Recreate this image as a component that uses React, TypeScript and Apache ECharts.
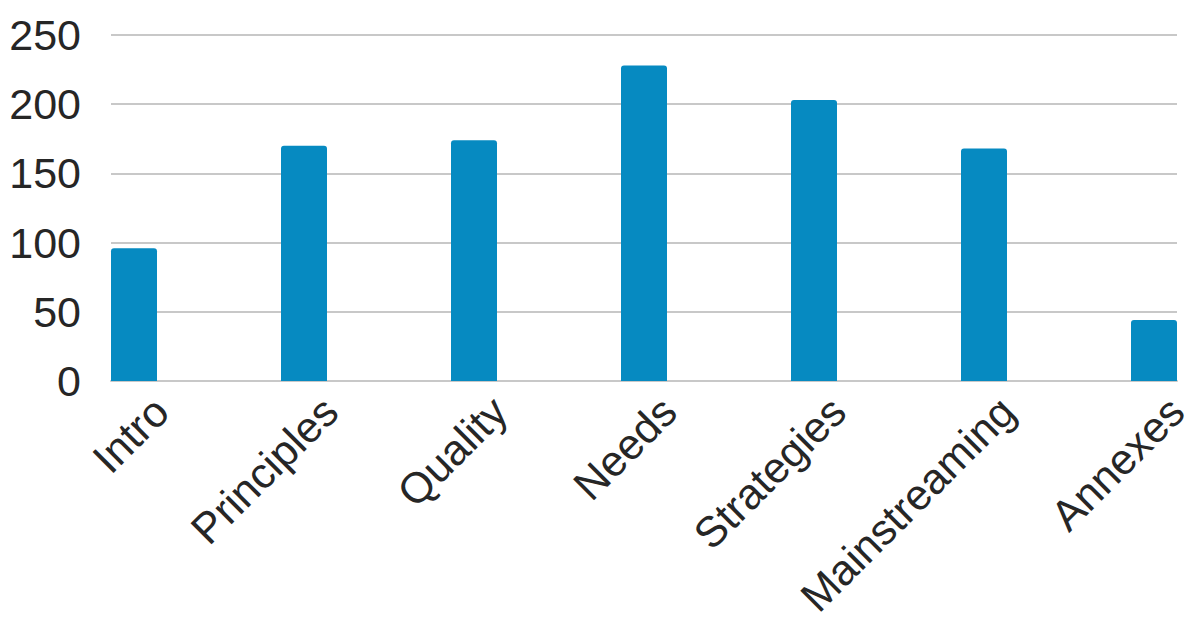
import React, { useEffect, useRef } from "react";
import * as echarts from "echarts";

const categories = ["Intro", "Principles", "Quality", "Needs", "Strategies", "Mainstreaming", "Annexes"];
const values = [96, 170, 174, 228, 203, 168, 44];
const yTicks = [0, 50, 100, 150, 200, 250];

export default function App() {
  const ref = useRef<HTMLDivElement>(null);
  useEffect(() => {
    if (!ref.current) return;
    const chart = echarts.init(ref.current, null, { renderer: "svg" });
    const font = "'Liberation Sans', Arial, sans-serif";
    const yMin = yTicks[0];
    const yMax = yTicks[yTicks.length - 1];
    const yInt = yTicks[1] - yTicks[0];
    const labelShift = 27;
    chart.setOption({
      animation: false,
      grid: [
        { left: 111, right: 17, top: 35, bottom: 240, containLabel: false },
        { left: 134, width: 1020, top: 35, bottom: 240, containLabel: false },
        { left: 134 + labelShift, width: 1020, top: 35, bottom: 240, containLabel: false },
      ],
      xAxis: [
        {
          gridIndex: 0, type: "category", data: categories, boundaryGap: true,
          axisLine: { show: true, lineStyle: { color: "#c8c8c8", width: 2 } },
          axisTick: { show: false }, axisLabel: { show: false }, splitLine: { show: false },
        },
        {
          gridIndex: 1, type: "category", data: categories, boundaryGap: false,
          axisLine: { show: false }, axisTick: { show: false }, axisLabel: { show: false }, splitLine: { show: false },
        },
        {
          gridIndex: 2, type: "category", data: categories, boundaryGap: false,
          axisLine: { show: false }, axisTick: { show: false }, splitLine: { show: false },
          axisLabel: {
            show: true, interval: 0, rotate: 45, margin: 27,
            fontSize: 43, color: "#262626", fontFamily: font,
          },
        },
      ],
      yAxis: [
        {
          gridIndex: 0, type: "value", min: yMin, max: yMax, interval: yInt,
          axisLine: { show: false }, axisTick: { show: false },
          splitLine: { show: true, lineStyle: { color: "#c8c8c8", width: 2 } },
          axisLabel: { margin: 30, fontSize: 43, color: "#262626", fontFamily: font },
        },
        {
          gridIndex: 1, type: "value", min: yMin, max: yMax, interval: yInt, show: false,
        },
        {
          gridIndex: 2, type: "value", min: yMin, max: yMax, interval: yInt, show: false,
        },
      ],
      series: [
        {
          type: "bar", xAxisIndex: 1, yAxisIndex: 1, data: values, barWidth: 46, clip: false,
          itemStyle: { color: "#068ac1", borderRadius: [3, 3, 0, 0] },
        },
      ],
    });
    return () => chart.dispose();
  }, []);
  return <div ref={ref} style={{ position: "absolute", left: 0, top: 0, width: 1194, height: 621 }} />;
}
